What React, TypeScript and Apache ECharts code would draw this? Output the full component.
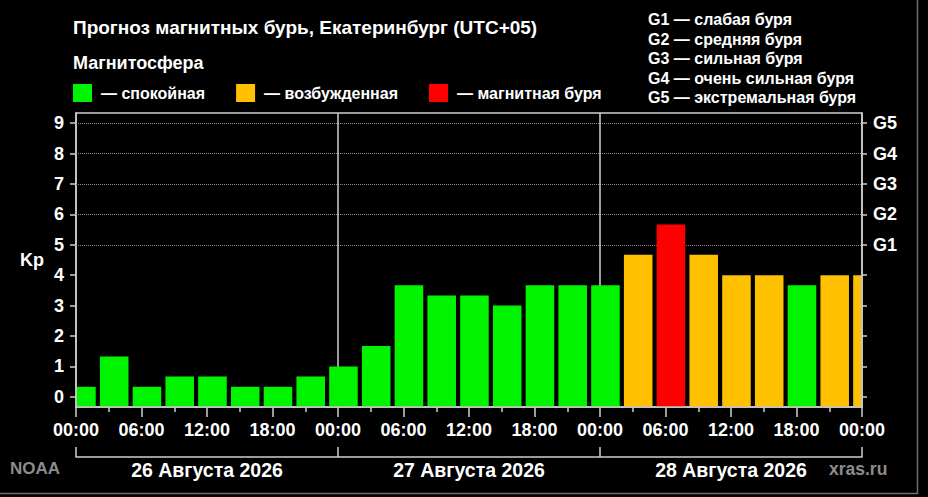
import React, { useEffect, useRef } from "react";
import * as echarts from "echarts";

// ---- data ----
const titleText = "Прогноз магнитных бурь, Екатеринбург (UTC+05)";
const magnetosphereTitle = "Магнитосфера";
// each forecast slot: start hour (local time, from 26 Aug 00:00) and Kp value
const slotStartHours = [-1, 2, 5, 8, 11, 14, 17, 20, 23, 26, 29, 32, 35, 38, 41, 44, 47, 50, 53, 56, 59, 62, 65, 68, 71];
const kpValues = [0.33, 1.33, 0.33, 0.67, 0.67, 0.33, 0.33, 0.67, 1, 1.67, 3.67, 3.33, 3.33, 3, 3.67, 3.67, 3.67, 4.67, 5.67, 4.67, 4, 4, 3.67, 4, 4];
const slotLengthHours = 3;
const levelNames = ["спокойная", "возбужденная", "магнитная буря"];
const levelColors = ["#00f400", "#ffc000", "#ff0000"];
const levelMinKp = [0, 4, 5];
const kpTicks = [0, 1, 2, 3, 4, 5, 6, 7, 8, 9];
const gNames = ["G1", "G2", "G3", "G4", "G5"];
const gKp = [5, 6, 7, 8, 9];
const gDescriptions = ["слабая буря", "средняя буря", "сильная буря", "очень сильная буря", "экстремальная буря"];
const dayLabels = ["26 Августа 2026", "27 Августа 2026", "28 Августа 2026"];
const daySeparatorHours = [24, 48];
const hourMin = 0;
const hourMax = 72;
const kpMin = -1 / 3;
const kpMax = 28 / 3;

const FONT = "'Liberation Sans', Arial, sans-serif";

function levelOf(v: number): number {
  let l = 0;
  for (let i = 0; i < levelMinKp.length; i++) if (v >= levelMinKp[i]) l = i;
  return l;
}

export default function App() {
  const ref = useRef<HTMLDivElement>(null);
  useEffect(() => {
    document.body.style.margin = "0";
    document.body.style.background = "#000";
    const chart = echarts.init(ref.current!, null, { renderer: "svg" });

    const renderBar = (params: any, api: any) => {
      const start = api.value(0);
      const end = api.value(1);
      const v = api.value(2);
      const pTop = api.coord([start, v]);
      const pBot = api.coord([end, kpMin]);
      const gap = 2.1;
      const rect = {
        x: pTop[0] + gap,
        y: pTop[1],
        width: pBot[0] - pTop[0] - 2 * gap,
        height: pBot[1] - pTop[1],
      };
      const cs = params.coordSys;
      const clipped = echarts.graphic.clipRectByRect(rect, {
        x: cs.x + 1,
        y: cs.y,
        width: cs.width - 2,
        height: cs.height - 0.8,
      });
      if (!clipped) return null;
      return { type: "rect", shape: clipped, style: { fill: api.visual("color") } };
    };

    const barSeries = levelNames.map((name, li) => ({
      type: "custom",
      name,
      xAxisIndex: 0,
      yAxisIndex: 0,
      z: 5,
      itemStyle: { color: levelColors[li] },
      renderItem: renderBar,
      encode: { x: [0, 1], y: 2 },
      data: slotStartHours
        .map((h, i) => [h, h + slotLengthHours, kpValues[i]])
        .filter((d) => levelOf(d[2]) === li),
    }));

    const bold = { color: "#fff", fontFamily: FONT, fontWeight: "bold" as const };
    const axisGrey = "#cfcfcf";
    const greyLine = { color: axisGrey, width: 1.5 };

    chart.setOption({
      animation: false,
      backgroundColor: "#000",
      title: [
        { text: titleText, left: 73, top: 16, padding: 0, textStyle: { ...bold, fontSize: 19, lineHeight: 22 } },
        { text: magnetosphereTitle, left: 73, top: 52, padding: 0, textStyle: { ...bold, fontSize: 18, lineHeight: 22 } },
        {
          text: gNames.map((g, i) => g + " — " + gDescriptions[i]).join("\n"),
          left: 648,
          top: 10,
          padding: 0,
          textStyle: { ...bold, fontSize: 16, lineHeight: 19.5 },
        },
      ],
      legend: {
        left: 73,
        top: 84,
        padding: 0,
        itemWidth: 19,
        itemHeight: 18,
        itemGap: 31,
        icon: "rect",
        selectedMode: false,
        data: levelNames,
        formatter: (n: string) => "— " + n,
        textStyle: { ...bold, fontSize: 16, padding: [0, 0, 0, 4] },
      },
      grid: {
        left: 76,
        right: 66,
        top: 113,
        bottom: 90,
        show: true,
        borderColor: axisGrey,
        borderWidth: 1.5,
        backgroundColor: "transparent",
      },
      xAxis: [
        {
          type: "value",
          position: "bottom",
          min: hourMin,
          max: hourMax,
          interval: 6,
          axisLine: { show: true, onZero: false, lineStyle: greyLine },
          axisTick: { show: true, length: 10, lineStyle: greyLine },
          minorTick: { show: true, splitNumber: 2, length: 5, lineStyle: greyLine },
          splitLine: { show: false },
          minorSplitLine: { show: false },
          axisLabel: {
            ...bold,
            fontSize: 18,
            margin: 14,
            formatter: (v: number) => String(v % 24).padStart(2, "0") + ":00",
          },
        },
        {
          type: "category",
          position: "bottom",
          offset: 50,
          data: dayLabels,
          boundaryGap: true,
          axisLine: { show: true, onZero: false, lineStyle: greyLine },
          axisTick: { show: true, inside: true, length: 10, lineStyle: greyLine },
          axisLabel: { ...bold, fontSize: 19.5, margin: 3 },
          splitLine: { show: false },
        },
      ],
      yAxis: [
        {
          type: "value",
          position: "left",
          min: kpMin,
          max: kpMax,
          axisLine: { show: true, onZero: false, lineStyle: greyLine },
          axisTick: { show: true, length: 6, customValues: kpTicks, lineStyle: greyLine },
          axisLabel: { ...bold, fontSize: 18, margin: 12, customValues: kpTicks },
          splitLine: { show: false },
        },
        {
          type: "value",
          position: "right",
          min: kpMin,
          max: kpMax,
          axisLine: { show: true, onZero: false, lineStyle: greyLine },
          axisTick: { show: true, length: 5, customValues: kpTicks, lineStyle: greyLine },
          axisLabel: {
            ...bold,
            fontSize: 18,
            margin: 11,
            customValues: gKp,
            formatter: (v: number) => {
              const i = gKp.indexOf(Math.round(v));
              return i >= 0 ? gNames[i] : "";
            },
          },
          splitLine: { show: false },
        },
      ],
      graphic: [
        {
          type: "text",
          left: 20,
          top: 251,
          style: { text: "Kp", fill: "#fff", font: `bold 18px ${FONT}` },
        },
        {
          type: "text",
          left: 10,
          top: 460,
          style: { text: "NOAA", fill: "#8c8c8c", font: `bold 17px ${FONT}` },
        },
        {
          type: "text",
          left: 829,
          top: 460,
          style: { text: "xras.ru", fill: "#8c8c8c", font: `bold 17.5px ${FONT}` },
        },
        {
          type: "polyline",
          shape: { points: [[917.5, 0], [917.5, 493.5], [0, 493.5]] },
          style: { stroke: "#6e6e6e", lineWidth: 1.5, fill: null },
        },
      ],
      series: [
        {
          type: "line",
          data: [],
          z: 1,
          silent: true,
          markLine: {
            silent: true,
            symbol: "none",
            label: { show: false },
            data: [
              ...gKp.map((k) => ({ yAxis: k, lineStyle: { color: "#8a8a8a", type: "dotted", width: 1 } })),
              ...daySeparatorHours.map((h) => ({ xAxis: h, lineStyle: { color: axisGrey, type: "solid", width: 1.5 } })),
            ],
          },
        },
        ...barSeries,
      ],
    });
    return () => chart.dispose();
  }, []);
  return <div ref={ref} style={{ width: 928, height: 497 }} />;
}
